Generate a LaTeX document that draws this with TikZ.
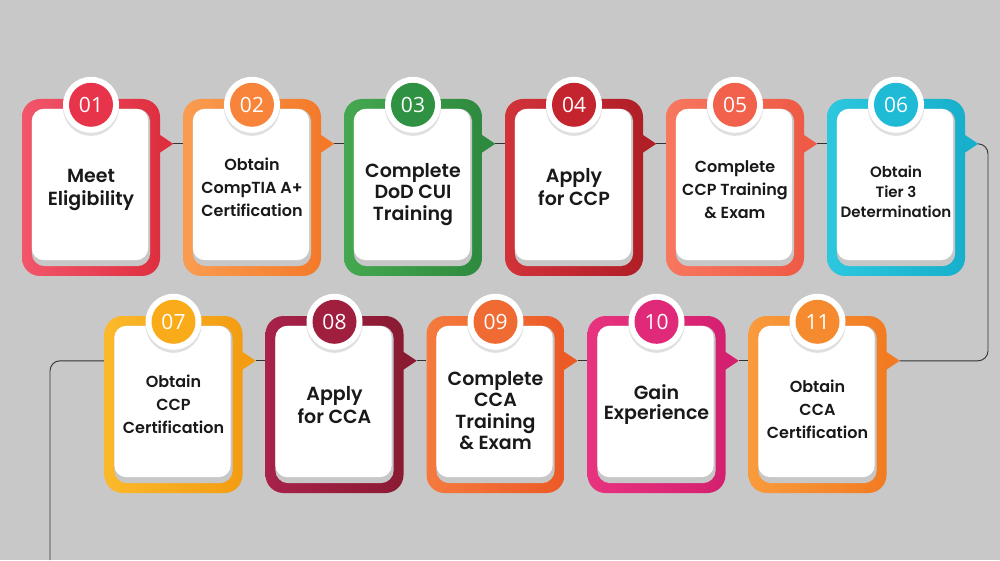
\documentclass[tikz,border=0pt]{standalone}
\usepackage{fontspec}
\setmainfont{Poppins}[BoldFont={Poppins SemiBold}]
\newfontfamily\numfont{Open Sans}
\usetikzlibrary{calc,backgrounds,shadows}

\definecolor{bg}{HTML}{C8C8C8}
\definecolor{l01}{HTML}{F2566B}\definecolor{d01}{HTML}{DE2F3F}\definecolor{n01}{HTML}{E8344A}
\definecolor{l02}{HTML}{FA9C50}\definecolor{d02}{HTML}{F47A2A}\definecolor{n02}{HTML}{F7843A}
\definecolor{l03}{HTML}{45A850}\definecolor{d03}{HTML}{2E8A3E}\definecolor{n03}{HTML}{2F9142}
\definecolor{l04}{HTML}{D2333B}\definecolor{d04}{HTML}{B01E26}\definecolor{n04}{HTML}{C4242D}
\definecolor{l05}{HTML}{F8775F}\definecolor{d05}{HTML}{EE5A45}\definecolor{n05}{HTML}{F2614B}
\definecolor{l06}{HTML}{2DC7DF}\definecolor{d06}{HTML}{17AFCB}\definecolor{n06}{HTML}{1FBAD6}
\definecolor{l07}{HTML}{FBB92A}\definecolor{d07}{HTML}{F39C12}\definecolor{n07}{HTML}{F9AB1A}
\definecolor{l08}{HTML}{A8224A}\definecolor{d08}{HTML}{8A1A32}\definecolor{n08}{HTML}{A01E3E}
\definecolor{l09}{HTML}{F57A3E}\definecolor{d09}{HTML}{EC5A26}\definecolor{n09}{HTML}{F06A33}
\definecolor{l10}{HTML}{E8337F}\definecolor{d10}{HTML}{D42070}\definecolor{n10}{HTML}{E02A79}
\definecolor{l11}{HTML}{F99B3C}\definecolor{d11}{HTML}{F27B22}\definecolor{n11}{HTML}{F68A2E}

\newcommand\bigtxt{\fontsize{19}{23}\selectfont}
\newcommand\tighttxt{\fontsize{19}{21.5}\selectfont}
\newcommand\pairtxt{\fontsize{19}{20}\selectfont}
\newcommand\smalltxt{\fontsize{16}{23}\selectfont}
\newcommand\tinytxt{\fontsize{15}{20}\selectfont}

\tikzset{
  card/.style={rounded corners=18pt, minimum width=138pt, minimum height=177pt, inner sep=0pt},
  ring/.style={circle, fill=white, minimum size=56pt, inner sep=0pt,
    drop shadow={shadow xshift=0pt, shadow yshift=-3pt, opacity=0.25}},
  num/.style={circle, minimum size=44pt, inner sep=0pt, text=white, font=\numfont\fontsize{21}{21}\selectfont},
  steptext/.style={align=center, text=black!90},
  link/.style={draw=black!80, line width=0.9pt},
}

\begin{document}
\begin{tikzpicture}[x=1pt,y=1pt]
\useasboundingbox (0,0) rectangle (1000,560);

% cards
\foreach \i/\x/\y/\dy/\fs/\txt in {
  01/91/372.5/-2/\bigtxt/{Meet\\Eligibility},
  02/252/372.5/0/\smalltxt/{Obtain\\CompTIA A+\\Certification},
  03/413/372.5/-7/\tighttxt/{Complete\\DoD CUI\\Training},
  04/574/372.5/0/\bigtxt/{Apply\\for CCP},
  05/735/372.5/-2/\smalltxt/{Complete\\CCP Training\\\& Exam},
  06/896/372.5/-4/\tinytxt/{Obtain\\Tier 3\\Determination},
  07/173.5/155.5/0/\smalltxt/{Obtain\\CCP\\Certification},
  08/334.5/155.5/-1/\bigtxt/{Apply\\for CCA},
  09/495.5/155.5/-6/\tighttxt/{Complete\\CCA\\Training\\\& Exam},
  10/656.5/155.5/0/\pairtxt/{Gain\\Experience},
  11/817.5/155.5/-5/\smalltxt/{Obtain\\CCA\\Certification}}
{
  \node[card, left color=l\i, right color=d\i] (c\i) at (\x,\y) {};
  \fill[d\i] ($(c\i.north east)+(-2,-35)$) -- ($(c\i.north east)+(13,-45)$) -- ($(c\i.north east)+(-2,-55)$) -- cycle;
  \coordinate (p\i) at ($(c\i.north east)+(13,-45)$);
  \fill[black!22, rounded corners=13pt] ($(c\i.south west)+(10,10)$) rectangle ($(c\i.north east)+(-10,-10)$);
  \fill[white, rounded corners=12pt] ($(c\i.south west)+(10,16)$) rectangle ($(c\i.north east)+(-12,-10)$);
  \node[ring] (r\i) at ($(c\i.north)+(0,-6)$) {};
  \node[num, fill=n\i] (n\i) at (r\i) {\i};
  \node[steptext, font=\bfseries\fs] (t\i) at ($(c\i)+(0,\dy)$) {\txt};
}

\coordinate (rt) at (988,0);
\coordinate (lt) at (50,0);

\begin{pgfonlayer}{background}
\fill[bg] (0,0) rectangle (1000,560);
\foreach \a/\b in {01/02,02/03,03/04,04/05,05/06,07/08,08/09,09/10,10/11}
  \draw[link] (p\a) -- (p\a -| c\b.west);
\draw[link, rounded corners=10pt] (p06) -- (p06 -| rt) -- (rt |- p11) -- (p11);
\draw[link, rounded corners=10pt] (c07.west |- p07) -- (lt |- p07) -- (lt);
\end{pgfonlayer}
\end{tikzpicture}
\end{document}
